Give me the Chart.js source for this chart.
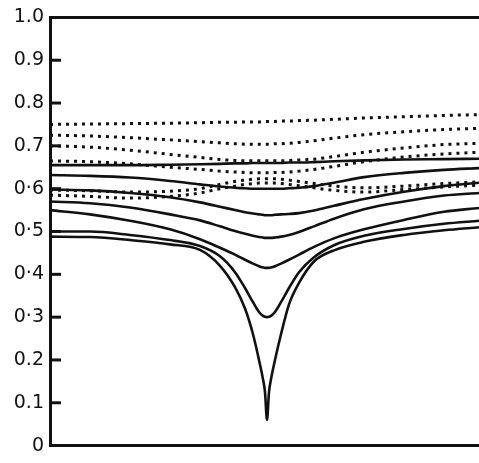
<!DOCTYPE html>
<html>
<head>
<meta charset="utf-8">
<script src="https://cdn.jsdelivr.net/npm/chart.js@4"></script>
<style>
  html, body { margin: 0; padding: 0; background: #fff; }
  #wrap { width: 479px; height: 463px; }
</style>
</head>
<body>
<div id="wrap"><canvas id="chart"></canvas></div>
<script>
// position along the horizontal axis (no scale printed in the original)
const xs = [0, 40, 80, 120, 150, 170, 185, 195, 203, 209, 213, 215, 217, 219, 221, 225, 231, 239, 249, 264, 284, 314, 354, 394, 429];

const yTickLabels = ['0', '0.1', '0.2', '0·3', '0·4', '0·5', '0·6', '0.7', '0.8', '0.9', '1.0'];

// solid curves
const solid1 = [0.655, 0.655, 0.655, 0.656, 0.657, 0.658, 0.659, 0.659, 0.66, 0.66, 0.66, 0.66, 0.66, 0.66, 0.66, 0.66, 0.66, 0.661, 0.661, 0.662, 0.664, 0.666, 0.668, 0.669, 0.67];
const solid2 = [0.632, 0.63, 0.626, 0.618, 0.61, 0.605, 0.602, 0.601, 0.6, 0.6, 0.6, 0.6, 0.6, 0.6, 0.6, 0.6, 0.6, 0.601, 0.602, 0.606, 0.614, 0.627, 0.637, 0.644, 0.648];
const solid3 = [0.598, 0.596, 0.59, 0.58, 0.568, 0.558, 0.55, 0.545, 0.542, 0.54, 0.539, 0.538, 0.538, 0.538, 0.538, 0.539, 0.54, 0.541, 0.543, 0.549, 0.56, 0.576, 0.593, 0.606, 0.614];
const solid4 = [0.57, 0.566, 0.556, 0.54, 0.526, 0.512, 0.501, 0.495, 0.49, 0.487, 0.486, 0.485, 0.485, 0.485, 0.485, 0.486, 0.488, 0.492, 0.499, 0.512, 0.53, 0.552, 0.57, 0.584, 0.59];
const solid5 = [0.55, 0.54, 0.525, 0.505, 0.482, 0.462, 0.446, 0.434, 0.425, 0.419, 0.416, 0.415, 0.415, 0.415, 0.416, 0.419, 0.425, 0.434, 0.446, 0.464, 0.484, 0.505, 0.527, 0.546, 0.555];
const solid6 = [0.5, 0.5, 0.492, 0.48, 0.466, 0.442, 0.405, 0.368, 0.335, 0.312, 0.303, 0.301, 0.3, 0.301, 0.303, 0.312, 0.335, 0.368, 0.405, 0.44, 0.468, 0.49, 0.506, 0.518, 0.525];
const solid7 = [0.488, 0.487, 0.48, 0.47, 0.457, 0.42, 0.37, 0.32, 0.26, 0.2, 0.155, 0.125, 0.06, 0.125, 0.155, 0.2, 0.26, 0.33, 0.38, 0.43, 0.456, 0.476, 0.492, 0.503, 0.51];

// dotted curves
const dotted1 = [0.75, 0.751, 0.752, 0.753, 0.754, 0.755, 0.755, 0.756, 0.756, 0.756, 0.757, 0.757, 0.757, 0.757, 0.757, 0.757, 0.758, 0.758, 0.759, 0.76, 0.762, 0.765, 0.768, 0.771, 0.773];
const dotted2 = [0.725, 0.723, 0.719, 0.714, 0.71, 0.707, 0.705, 0.704, 0.704, 0.704, 0.704, 0.704, 0.704, 0.704, 0.704, 0.705, 0.705, 0.706, 0.708, 0.712, 0.718, 0.726, 0.733, 0.738, 0.741];
const dotted3 = [0.7, 0.697, 0.69, 0.68, 0.673, 0.668, 0.666, 0.665, 0.665, 0.665, 0.665, 0.665, 0.665, 0.665, 0.665, 0.665, 0.665, 0.666, 0.667, 0.669, 0.675, 0.685, 0.695, 0.703, 0.706];
const dotted4 = [0.665, 0.663, 0.658, 0.65, 0.645, 0.641, 0.639, 0.638, 0.637, 0.637, 0.637, 0.637, 0.637, 0.637, 0.637, 0.638, 0.638, 0.639, 0.641, 0.645, 0.652, 0.663, 0.674, 0.681, 0.685];
const dotted5 = [0.597, 0.595, 0.592, 0.594, 0.6, 0.61, 0.617, 0.62, 0.622, 0.623, 0.623, 0.623, 0.623, 0.623, 0.623, 0.623, 0.622, 0.62, 0.617, 0.612, 0.606, 0.602, 0.606, 0.612, 0.616];
const dotted6 = [0.585, 0.582, 0.578, 0.582, 0.59, 0.6, 0.606, 0.61, 0.612, 0.613, 0.613, 0.613, 0.613, 0.613, 0.613, 0.613, 0.612, 0.61, 0.607, 0.602, 0.596, 0.592, 0.598, 0.604, 0.608];

function points(ys) {
  return xs.map((x, i) => ({ x, y: ys[i] }));
}

function solidLine(ys) {
  return { data: points(ys), borderColor: '#111', borderWidth: 2.6, pointRadius: 0, cubicInterpolationMode: 'monotone' };
}

function dottedLine(ys) {
  return { data: points(ys), borderColor: '#111', borderWidth: 3, borderDash: [3, 5], pointRadius: 0, cubicInterpolationMode: 'monotone' };
}

// inward tick marks on the left axis, long at every 0.1, short in between
const inwardTicks = {
  id: 'inwardTicks',
  afterDraw(chart) {
    const { ctx, scales: { y }, chartArea } = chart;
    ctx.save();
    ctx.strokeStyle = '#111';
    ctx.lineWidth = 3;
    y.ticks.forEach(t => {
      const v = Math.round(t.value * 100);
      if (v === 0 || v === 100) return;
      const py = y.getPixelForValue(t.value);
      const len = v % 10 === 0 ? 11 : 6;
      ctx.beginPath();
      ctx.moveTo(chartArea.left, py);
      ctx.lineTo(chartArea.left + len, py);
      ctx.stroke();
    });
    ctx.restore();
  }
};

new Chart(document.getElementById('chart'), {
  type: 'line',
  data: {
    datasets: [
      dottedLine(dotted1), dottedLine(dotted2), dottedLine(dotted3),
      dottedLine(dotted4), dottedLine(dotted5), dottedLine(dotted6),
      solidLine(solid1), solidLine(solid2), solidLine(solid3), solidLine(solid4),
      solidLine(solid5), solidLine(solid6), solidLine(solid7)
    ]
  },
  options: {
    responsive: true,
    maintainAspectRatio: false,
    animation: false,
    layout: { padding: { top: 15, bottom: 16, right: 0 } },
    plugins: { legend: { display: false }, tooltip: { enabled: false } },
    scales: {
      x: {
        type: 'linear',
        min: 0,
        max: 429,
        ticks: { display: false },
        grid: { display: false, drawTicks: false },
        border: { display: true, color: '#111', width: 3 },
        afterFit: s => { s.height = 0; }
      },
      y: {
        min: 0,
        max: 1,
        ticks: {
          stepSize: 0.05,
          color: '#111',
          padding: 6,
          font: { family: 'DejaVu Sans', size: 19 },
          callback: v => {
            const k = Math.round(v * 100);
            return k % 10 === 0 ? yTickLabels[k / 10] : '';
          }
        },
        grid: {
          drawTicks: false,
          lineWidth: 3,
          color: c => (c.tick && Math.round(c.tick.value * 100) === 100 ? '#111' : 'transparent')
        },
        border: { display: true, color: '#111', width: 3 },
        afterFit: s => { s.width = 50; }
      }
    }
  },
  plugins: [inwardTicks]
});
</script>
</body>
</html>
